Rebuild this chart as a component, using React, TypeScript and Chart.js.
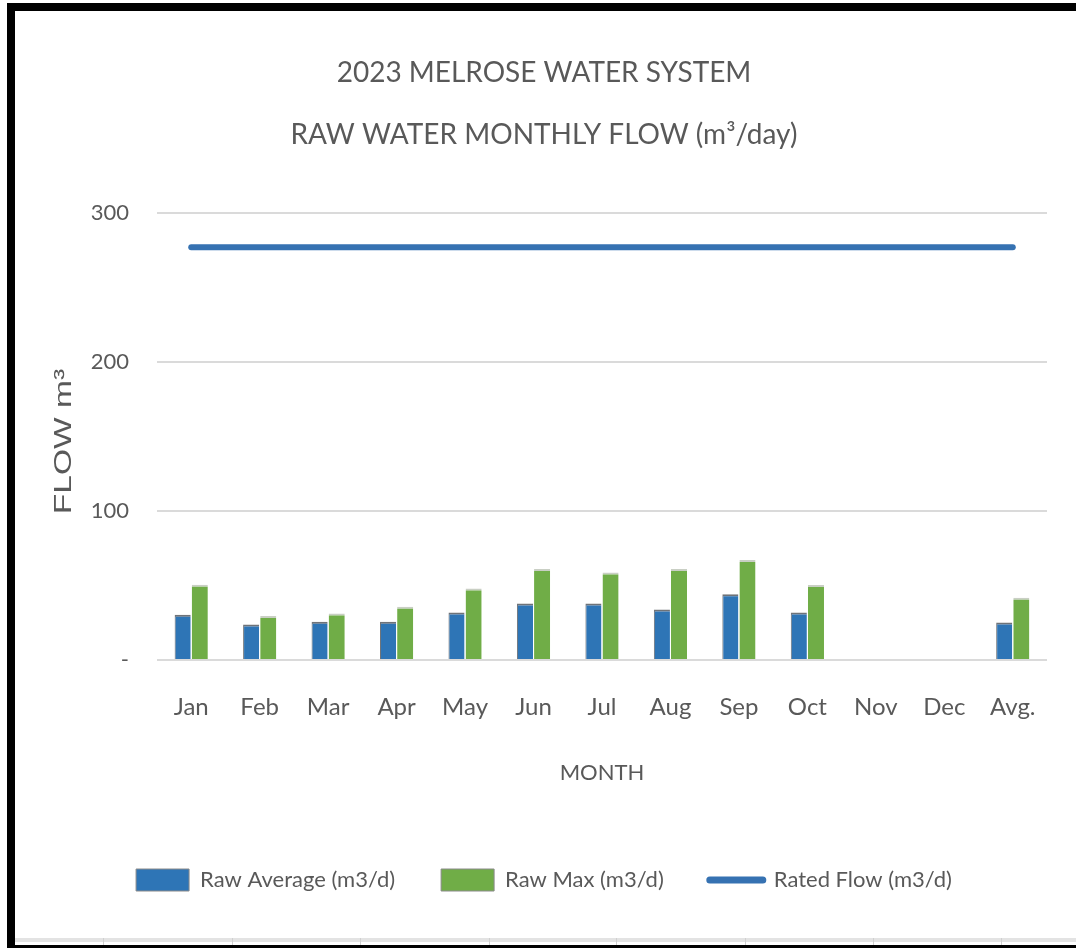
import React, { useEffect, useRef } from 'react';
import { Chart, registerables } from 'chart.js';

Chart.register(...registerables);

const categories = ['Jan', 'Feb', 'Mar', 'Apr', 'May', 'Jun', 'Jul', 'Aug', 'Sep', 'Oct', 'Nov', 'Dec', 'Avg.'];
const rawAverage = [30.3, 23.8, 25.6, 25.6, 31.9, 37.9, 37.9, 33.9, 44.2, 31.9, null, null, 25.1];
const rawMax = [50.5, 29.6, 31.2, 35.7, 48, 61, 58.8, 61, 67.1, 50.3, null, null, 41.8];
const ratedFlow = [277, 277, 277, 277, 277, 277, 277, 277, 277, 277, 277, 277, 277];
const yTicks = [0, 100, 200, 300];
const titleLines = ['2023 MELROSE WATER SYSTEM', 'RAW WATER MONTHLY FLOW (m³/day)'];
const xAxisTitle = 'MONTH';
const yAxisTitle = 'FLOW m³';
const seriesNames = ['Raw Average (m3/d)', 'Raw Max (m3/d)', 'Rated Flow (m3/d)'];

const NARROW = "Lato, 'Open Sans', sans-serif";
const TEXT = '#595959';
const BLUE = '#2E75B6';
const GREEN = '#70AD47';
const LINE = '#3672B2';

const yTitlePlugin = {
  id: 'yTitleStretched',
  afterDraw(chart: any) {
    const { ctx, chartArea } = chart;
    ctx.save();
    ctx.translate(49, (chartArea.top + chartArea.bottom) / 2 + 5);
    ctx.rotate(-Math.PI / 2);
    ctx.scale(1.4, 1);
    ctx.font = "24px 'Liberation Sans', Arial, sans-serif";
    ctx.fillStyle = TEXT;
    ctx.textAlign = 'center';
    ctx.textBaseline = 'middle';
    ctx.fillText(yAxisTitle, 0, 0);
    ctx.restore();
  },
};

export default function App() {
  const canvasRef = useRef<HTMLCanvasElement | null>(null);

  useEffect(() => {
    if (!canvasRef.current) return;
    const chart = new Chart(canvasRef.current, {
      type: 'bar',
      data: {
        labels: categories,
        datasets: [
          {
            type: 'bar',
            label: seriesNames[0],
            data: rawAverage,
            backgroundColor: BLUE,
            borderColor: '#6f7378',
            borderWidth: { top: 2, left: 1, right: 0, bottom: 0 },
            borderSkipped: false,
            categoryPercentage: 0.5,
            barPercentage: 0.94,
          },
          {
            type: 'bar',
            label: seriesNames[1],
            data: rawMax,
            backgroundColor: GREEN,
            borderColor: '#c9cfc4',
            borderWidth: { top: 2, left: 0, right: 0, bottom: 0 },
            borderSkipped: false,
            categoryPercentage: 0.5,
            barPercentage: 0.94,
          },
          {
            type: 'line',
            label: seriesNames[2],
            data: ratedFlow,
            borderColor: LINE,
            backgroundColor: LINE,
            borderWidth: 6,
            borderCapStyle: 'round',
            pointRadius: 0,
            pointStyle: 'line',
            fill: false,
          },
        ],
      } as any,
      options: {
        responsive: false,
        animation: false,
        devicePixelRatio: 1,
        layout: { padding: { left: 0, right: 3, top: 0, bottom: 37 } },
        plugins: {
          title: {
            display: true,
            text: titleLines,
            color: TEXT,
            font: { family: NARROW, size: 28, weight: 'normal', lineHeight: 62 / 28 },
            padding: { top: 31, bottom: 47 },
          },
          legend: {
            display: true,
            position: 'bottom',
            labels: {
              usePointStyle: true,
              pointStyleWidth: 53,
              boxHeight: 22,
              padding: 46,
              color: TEXT,
              font: { family: NARROW, size: 22, lineHeight: 1.2 },
              generateLabels(c: any) {
                const items = (Chart as any).defaults.plugins.legend.labels.generateLabels(c);
                return items.map((it: any) => {
                  const ds = c.data.datasets[it.datasetIndex];
                  if (ds.type === 'line') {
                    return { ...it, pointStyle: 'line', lineWidth: 7, strokeStyle: LINE, lineCap: 'round' };
                  }
                  return { ...it, pointStyle: 'rect', lineWidth: 1, strokeStyle: '#8a8a8a', fillStyle: ds.backgroundColor };
                });
              },
            },
          },
          tooltip: { enabled: false },
        },
        scales: {
          x: {
            grid: { display: false, drawTicks: false },
            border: { display: false },
            ticks: {
              color: TEXT,
              font: { family: NARROW, size: 24, lineHeight: 1.2 },
              padding: 33,
              maxRotation: 0,
              autoSkip: false,
            },
            title: {
              display: true,
              text: xAxisTitle,
              color: TEXT,
              font: { family: NARROW, size: 22, lineHeight: 1.2 },
              padding: { top: 0, bottom: 37 },
            },
            afterFit(scale: any) {
              scale.height = 163;
            },
          },
          y: {
            min: 0,
            max: 300,
            grid: { color: '#dadada', lineWidth: 2, drawTicks: false },
            border: { display: false },
            ticks: {
              color: TEXT,
              font: { family: NARROW, size: 22 },
              padding: 28,
              callback: (v: any) => (Number(v) === 0 ? '-' : String(v)),
            },
            afterBuildTicks(scale: any) {
              scale.ticks = yTicks.map((v) => ({ value: v }));
            },
            afterFit(scale: any) {
              scale.width = 142;
            },
          },
          ySpacer: {
            position: 'right',
            display: true,
            grid: { display: false, drawTicks: false },
            border: { display: false },
            ticks: { display: false },
            afterFit(scale: any) {
              scale.width = 26;
            },
          },
        },
      } as any,
      plugins: [yTitlePlugin],
    });
    return () => chart.destroy();
  }, []);

  const cellTicks = [103, 232, 360, 489, 616, 745, 873, 1001];

  return (
    <div style={{ position: 'fixed', left: 0, top: 0, width: 1076, height: 948, background: '#fff', overflow: 'hidden' }}>
      <div style={{ position: 'absolute', left: 7, top: 3, right: 0, height: 8, background: '#000' }} />
      <div style={{ position: 'absolute', left: 7, top: 3, width: 8, bottom: 0, background: '#000' }} />
      <div style={{ position: 'absolute', left: 15, right: 0, top: 938, height: 4, background: '#e3e3e3' }} />
      {cellTicks.map((x) => (
        <div key={x} style={{ position: 'absolute', left: x, top: 938, width: 1, height: 7, background: '#d0d0d0' }} />
      ))}
      <div style={{ position: 'absolute', left: 7, right: 0, bottom: 0, height: 3, background: '#000' }} />
      <canvas
        ref={canvasRef}
        width={1061}
        height={927}
        style={{ position: 'absolute', left: 15, top: 11, width: 1061, height: 927 }}
      />
    </div>
  );
}
